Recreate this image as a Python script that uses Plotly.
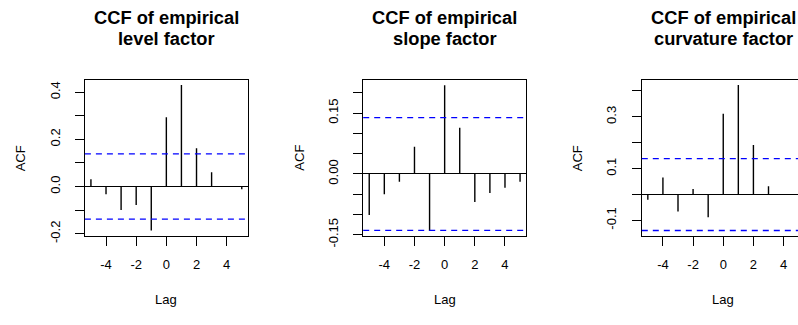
import plotly.graph_objects as go

# ---- data ----
lags = [-5, -4, -3, -2, -1, 0, 1, 2, 3, 4, 5]
level_ccf = [0.031, -0.033, -0.100, -0.078, -0.186, 0.294, 0.430, 0.162, 0.061, 0.002, -0.012]
slope_ccf = [-0.101, -0.050, -0.019, 0.067, -0.141, 0.219, 0.114, -0.069, -0.047, -0.034, -0.019]
curv_ccf = [-0.020, 0.066, -0.066, 0.021, -0.088, 0.312, 0.423, 0.191, 0.032, 0.001, 0.000]
conf_bounds = [0.138, 0.139, 0.139]
titles = [["CCF of empirical", "level factor"],
          ["CCF of empirical", "slope factor"],
          ["CCF of empirical", "curvature factor"]]
x_ticks = [-4, -2, 0, 2, 4]
y_ticks = [
    ([0.4, 0.3, 0.2, 0.1, 0.0, -0.1, -0.2], ["0.4", "", "0.2", "", "0.0", "", "-0.2"]),
    ([0.2, 0.15, 0.1, 0.05, 0.0, -0.05, -0.1, -0.15], ["", "0.15", "", "", "0.00", "", "", "-0.15"]),
    ([0.4, 0.3, 0.2, 0.1, 0.0, -0.1], ["", "0.3", "", "0.1", "", "-0.1"]),
]
series = [level_ccf, slope_ccf, curv_ccf]

# ---- layout geometry (pixels) ----
W, H = 798, 325
x_dom_px = [(84.9, 247.8), (363.2, 526.1), (641.8, 798.0)]
x_ranges = [[-5.4, 5.4], [-5.4, 5.4], [-5.4, -5.4 + 10.8 * (798.0 - 641.8) / 162.9]]
y_ranges = [[-0.2095, 0.453], [-0.153, 0.2327], [-0.160, 0.4436]]
box_top, box_bot = 82.7, 245.0
y_dom = [(H - box_bot) / H, (H - box_top) / H]

FONT = "Liberation Sans"
fig = go.Figure()
shapes = []
annotations = []

for i in range(3):
    sfx = "" if i == 0 else str(i + 1)
    xa, ya = "x" + sfx, "y" + sfx
    xs, ys = [], []
    for lag, v in zip(lags, series[i]):
        xs += [lag, lag, None]
        ys += [0, v, None]
    fig.add_trace(go.Scatter(x=xs, y=ys, mode="lines", xaxis=xa, yaxis=ya,
                             line=dict(color="black", width=1.4), showlegend=False,
                             hoverinfo="skip"))
    for sgn in (1, -1):
        shapes.append(dict(type="line", xref=xa + " domain", yref=ya,
                           x0=0, x1=1, y0=sgn * conf_bounds[i], y1=sgn * conf_bounds[i],
                           line=dict(color="#0000FF", width=1.3, dash="6px,5px")))
    common = dict(showline=True, linecolor="black", linewidth=1.3, ticks="outside",
                  ticklen=9, tickwidth=1.3, tickcolor="black", showgrid=False,
                  tickfont=dict(family=FONT, size=13, color="black"))
    fig.update_layout(**{
        "xaxis" + sfx: dict(domain=[x_dom_px[i][0] / W, x_dom_px[i][1] / W],
                            range=x_ranges[i], anchor=ya, mirror=True,
                            tickvals=x_ticks, ticktext=[str(t) for t in x_ticks],
                            zeroline=False, ticklabelstandoff=7, **common),
        "yaxis" + sfx: dict(domain=y_dom, range=y_ranges[i], anchor=xa,
                            mirror=(i < 2), tickvals=y_ticks[i][0], ticktext=y_ticks[i][1],
                            tickangle=-90, zeroline=True, zerolinecolor="black",
                            zerolinewidth=1.3, ticklabelstandoff=10, **common),
    })
    cx = (x_dom_px[i][0] + x_dom_px[i][1]) / 2 if i < 2 else 723.3
    for line_txt, ypx in zip(titles[i], (18.3, 39.5)):
        annotations.append(dict(text="<b>" + line_txt + "</b>", xref="paper", yref="paper",
                                x=cx / W, y=(H - ypx) / H, xanchor="center", yanchor="middle",
                                showarrow=False, font=dict(family=FONT, size=18.3, color="black")))
    annotations.append(dict(text="Lag", xref="paper", yref="paper", x=cx / W, y=(H - 311.5) / H,
                            xanchor="center", yanchor="middle", showarrow=False,
                            font=dict(family=FONT, size=13, color="black")))
    acf_x = x_dom_px[i][0] - 63.5
    annotations.append(dict(text="ACF", xref="paper", yref="paper", x=acf_x / W, y=(H - 164) / H,
                            xanchor="center", yanchor="middle", textangle=-90, showarrow=False,
                            font=dict(family=FONT, size=13, color="black")))

fig.update_layout(width=W, height=H, margin=dict(l=0, r=0, t=0, b=0, pad=0),
                  paper_bgcolor="white", plot_bgcolor="white",
                  shapes=shapes, annotations=annotations, showlegend=False)
fig.write_html("out.html", config={"displayModeBar": False},
               post_script="document.body.style.margin='0';")
